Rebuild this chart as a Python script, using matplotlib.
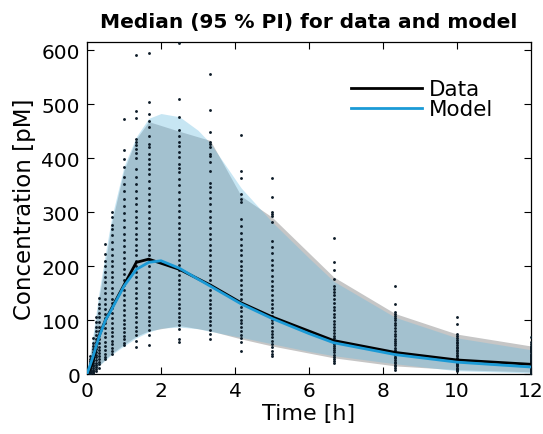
import matplotlib
matplotlib.use("Agg")
import matplotlib.pyplot as plt

# Time points of the observed data [h]
data_times = [0, 0.083, 0.167, 0.25, 0.333, 0.5, 0.667, 1.0, 1.333, 1.667,
              2.5, 3.333, 4.167, 5.0, 6.667, 8.333, 10, 12]
# Data median and 95 % PI
data_median = [0, 10, 25, 50, 72, 100, 122, 165, 207, 213,
               194, 165, 132, 106, 62, 40, 26, 18]
data_upper = [0, 35, 65, 105, 145, 210, 280, 378, 436, 468,
              450, 433, 330, 291, 180, 112, 74, 52]
data_lower = [0, 1, 4, 9, 16, 28, 38, 55, 70, 80,
              90, 80, 65, 52, 30, 15, 8, 4]

# Model prediction (finer time grid)
model_times = [0, 0.083, 0.167, 0.25, 0.333, 0.5, 0.667, 1.0, 1.333, 1.667, 2.0,
               2.5, 3.0, 3.333, 4.167, 5.0, 6.0, 6.667, 8.333, 10, 12]
model_median = [0, 16, 33, 52, 70, 100, 120, 163, 194, 207, 210,
                196, 176, 163, 130, 103, 75, 58, 36, 22, 13]
model_upper = [0, 40, 75, 115, 155, 225, 290, 385, 440, 474, 483,
               477, 452, 428, 345, 282, 215, 172, 105, 67, 45]
model_lower = [0, 2, 6, 11, 16, 26, 36, 52, 67, 78, 85,
               87, 84, 79, 68, 56, 42, 34, 19, 6, 2]

# Individual observations per sampling time
obs = {
    0.083: [0, 1, 2, 3, 4, 5, 6, 8, 10, 12, 14, 17, 20, 24, 28, 33],
    0.167: [2, 4, 6, 8, 11, 14, 17, 20, 24, 28, 32, 36, 41, 46, 52, 58, 67],
    0.25: [5, 9, 13, 17, 21, 26, 31, 36, 41, 47, 53, 59, 65, 72, 80, 88, 96, 105],
    0.333: [12, 18, 22, 27, 33, 39, 45, 51, 58, 65, 72, 80, 88, 96, 105, 114,
            122, 130, 141],
    0.5: [28, 32, 38, 45, 52, 60, 68, 76, 85, 94, 103, 112, 121, 130, 140, 150,
          160, 170, 180, 190, 200, 210, 222, 241],
    0.667: [37, 42, 48, 55, 62, 70, 78, 86, 95, 104, 113, 122, 131, 140, 150,
            160, 170, 180, 190, 200, 210, 220, 232, 245, 258, 269, 276, 291, 300],
    1.0: [53, 58, 64, 70, 77, 85, 93, 101, 110, 119, 128, 137, 146, 155, 165,
          175, 185, 195, 205, 215, 226, 237, 248, 260, 272, 285, 298, 312, 325,
          340, 352, 366, 384, 398, 416, 472],
    1.333: [50, 62, 72, 80, 88, 96, 105, 114, 123, 132, 141, 150, 160, 170, 180,
            190, 200, 210, 220, 230, 240, 250, 260, 270, 281, 292, 303, 315, 327,
            340, 352, 365, 380, 400, 410, 417, 424, 430, 436, 475, 487, 591],
    1.667: [53, 72, 82, 90, 98, 106, 115, 124, 133, 142, 151, 160, 170, 180, 190,
            200, 210, 220, 230, 240, 250, 260, 270, 280, 290, 300, 311, 322, 333,
            345, 357, 370, 381, 390, 399, 408, 421, 427, 442, 458, 470, 482, 505,
            596],
    2.5: [60, 65, 83, 90, 98, 106, 114, 122, 130, 139, 148, 157, 166, 175, 184,
          193, 202, 211, 220, 230, 240, 250, 260, 270, 280, 291, 302, 313, 325,
          337, 350, 362, 375, 382, 390, 402, 412, 422, 431, 442, 453, 477, 510,
          614],
    3.333: [64, 74, 82, 90, 98, 106, 114, 122, 130, 138, 147, 156, 165, 174, 183,
            192, 201, 210, 220, 230, 240, 250, 260, 270, 281, 292, 303, 315, 327,
            338, 346, 355, 377, 393, 405, 408, 421, 427, 430, 449, 490, 557],
    4.167: [42, 59, 66, 73, 80, 87, 94, 101, 108, 116, 124, 132, 140, 148, 156,
            165, 174, 183, 192, 201, 210, 220, 230, 240, 250, 262, 274, 288, 319,
            325, 333, 363, 377, 443],
    5.0: [34, 38, 43, 50, 56, 62, 68, 74, 80, 87, 94, 101, 108, 115, 122, 130,
          138, 146, 155, 164, 173, 182, 192, 202, 212, 224, 236, 247, 282, 293,
          297, 301, 329, 363],
    6.667: [20, 24, 28, 32, 36, 40, 44, 48, 52, 56, 61, 66, 71, 76, 81, 87, 93,
            99, 105, 111, 118, 125, 132, 139, 146, 152, 158, 164, 176, 193, 208,
            252],
    8.333: [8, 11, 14, 17, 20, 23, 26, 29, 32, 35, 38, 41, 45, 49, 53, 57, 61, 65,
            70, 75, 80, 85, 90, 95, 100, 104, 108, 112, 115, 130, 163],
    10: [6, 8, 10, 12, 14, 16, 18, 20, 22, 24, 26, 28, 30, 33, 36, 39, 42, 45, 48,
         51, 54, 57, 60, 63, 66, 70, 74, 92, 105],
    12: [0, 2, 4, 6, 8, 10, 12, 14, 16, 18, 20, 22, 24, 26, 28, 30, 32, 34, 36,
         38, 40, 42, 44, 46, 48, 50, 52, 55, 59, 68],
}

fig = plt.figure(figsize=(5.43, 4.35), dpi=100)
ax = fig.add_axes([0.1602, 0.1379, 0.8177, 0.7625])

# Prediction intervals
ax.fill_between(data_times, data_lower, data_upper, color="#c6c6c6", lw=0, zorder=1)
ax.fill_between(model_times, model_lower, model_upper, color=(0.40, 0.73, 0.88),
                alpha=0.36, lw=0, zorder=2)

# Observations
xs, ys = [], []
for t, vals in obs.items():
    xs += [t] * len(vals)
    ys += vals
ax.scatter(xs, ys, s=4.2, marker="o", color="#0b1a26", lw=0, zorder=3)

# Medians
ax.plot(data_times, data_median, color="black", lw=2.0, label="Data", zorder=4)
ax.plot(model_times, model_median, color="#1b9ad6", lw=2.0, label="Model", zorder=5)

ax.set_xlim(0, 12)
ax.set_ylim(0, 615)
ax.set_xticks(range(0, 13, 2))
ax.set_yticks(range(0, 601, 100))
ax.tick_params(direction="in", top=True, right=True, length=5, labelsize=14.5,
               width=0.8, pad=5)
for sp in ax.spines.values():
    sp.set_linewidth(0.9)

ax.set_xlabel("Time [h]", fontsize=16, labelpad=2)
ax.set_ylabel("Concentration [pM]", fontsize=16.5, labelpad=4)
ax.set_title("Median (95 % PI) for data and model", fontsize=14.5,
             fontweight="bold", pad=11)

leg = ax.legend(loc="upper right", frameon=False, fontsize=15.5, handlelength=3.3,
                bbox_to_anchor=(0.935, 0.915), borderaxespad=0, labelspacing=0.0,
                handletextpad=0.35)

plt.savefig("out.png", dpi=100)
